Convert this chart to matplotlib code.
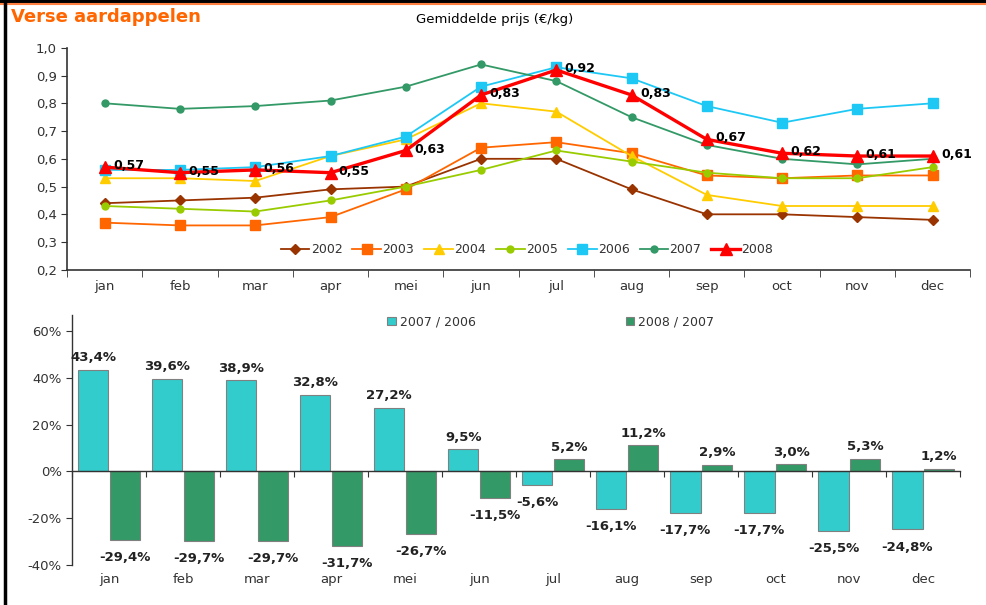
import numpy as np
import matplotlib
matplotlib.use("Agg")
import matplotlib.pyplot as plt
from matplotlib.lines import Line2D
from matplotlib.ticker import FuncFormatter

months = ['jan', 'feb', 'mar', 'apr', 'mei', 'jun', 'jul', 'aug', 'sep', 'oct', 'nov', 'dec']

# average price (EUR/kg) per year
years = ['2002', '2003', '2004', '2005', '2006', '2007', '2008']
prices_2002 = [0.44, 0.45, 0.46, 0.49, 0.50, 0.60, 0.60, 0.49, 0.40, 0.40, 0.39, 0.38]
prices_2003 = [0.37, 0.36, 0.36, 0.39, 0.49, 0.64, 0.66, 0.62, 0.54, 0.53, 0.54, 0.54]
prices_2004 = [0.53, 0.53, 0.52, 0.61, 0.67, 0.80, 0.77, 0.61, 0.47, 0.43, 0.43, 0.43]
prices_2005 = [0.43, 0.42, 0.41, 0.45, 0.50, 0.56, 0.63, 0.59, 0.55, 0.53, 0.53, 0.57]
prices_2006 = [0.56, 0.56, 0.57, 0.61, 0.68, 0.86, 0.93, 0.89, 0.79, 0.73, 0.78, 0.80]
prices_2007 = [0.80, 0.78, 0.79, 0.81, 0.86, 0.94, 0.88, 0.75, 0.65, 0.60, 0.58, 0.60]
prices_2008 = [0.57, 0.55, 0.56, 0.55, 0.63, 0.83, 0.92, 0.83, 0.67, 0.62, 0.61, 0.61]

# change in percent
change_07_06 = [43.4, 39.6, 38.9, 32.8, 27.2, 9.5, -5.6, -16.1, -17.7, -17.7, -25.5, -24.8]
change_08_07 = [-29.4, -29.7, -29.7, -31.7, -26.7, -11.5, 5.2, 11.2, 2.9, 3.0, 5.3, 1.2]

plt.rcParams['font.family'] = ['DejaVu Sans']
txt_col = '#333333'

fig = plt.figure(figsize=(9.87, 6.05), dpi=100)

# frame lines round the picture
fig.add_artist(Line2D([0, 1], [0.998, 0.998], transform=fig.transFigure, color='black', lw=2.5))
fig.add_artist(Line2D([0, 1], [0.993, 0.993], transform=fig.transFigure, color='#FF8040', lw=1.5))
fig.add_artist(Line2D([0.005, 0.005], [0, 1], transform=fig.transFigure, color='black', lw=2.5))

fig.text(0.011, 0.972, 'Verse aardappelen', color='#FF6600', fontsize=13, fontweight='bold', va='center')
fig.text(0.501, 0.967, 'Gemiddelde prijs (€/kg)', color='black', fontsize=9.5, va='center', ha='center')

x = np.arange(len(months))
comma = lambda s: s.replace('.', ',')

# ---- top: price lines
ax1 = fig.add_axes([0.068, 0.554, 0.915, 0.367])
series = [prices_2002, prices_2003, prices_2004, prices_2005, prices_2006, prices_2007, prices_2008]
colors = ['#993300', '#FF6600', '#FFCC00', '#99CC00', '#1EC8F5', '#339966', '#FF0000']
markers = ['D', 's', '^', 'o', 's', 'o', '^']
msizes = [5, 7, 7, 5, 7, 5, 8]
for yr, vals, c, m, ms in zip(years, series, colors, markers, msizes):
    lw = 2.4 if yr == '2008' else 1.3
    ax1.plot(x, vals, color=c, marker=m, markersize=ms, lw=lw, label=yr, zorder=3 if yr == '2008' else 2)

for xi, v in zip(x, prices_2008):
    ax1.annotate(comma(f'{v:.2f}'), (xi, v), xytext=(6, 1), textcoords='offset points',
                 ha='left', va='center', fontsize=9, fontweight='bold', color='black', zorder=4)

ax1.set_xlim(-0.5, 11.5)
ax1.set_ylim(0.2, 1.0)
ax1.set_yticks(np.arange(0.2, 1.01, 0.1))
ax1.yaxis.set_major_formatter(FuncFormatter(lambda v, p: comma(f'{v:.1f}')))
ax1.set_xticks(x, months)
ax1.set_xticks(np.arange(-0.5, 12, 1), minor=True)
ax1.tick_params(axis='x', which='major', length=0, pad=7, labelsize=9.5, labelcolor=txt_col)
ax1.tick_params(axis='x', which='minor', length=5, direction='out', color='#333333')
ax1.tick_params(axis='y', length=4, labelsize=9.5, labelcolor=txt_col, color='#333333')
for s in ['top', 'right']:
    ax1.spines[s].set_visible(False)
for s in ['left', 'bottom']:
    ax1.spines[s].set_color('#333333')
    ax1.spines[s].set_linewidth(1.2)

ax1.legend(loc='center', bbox_to_anchor=(0.534, 0.587), bbox_transform=fig.transFigure,
           ncol=7, frameon=False, fontsize=9, handlelength=2.3, handletextpad=0.1,
           columnspacing=0.8, labelcolor=txt_col)

# ---- bottom: percent change bars
ax2 = fig.add_axes([0.073, 0.066, 0.900, 0.413])
w = 0.41
ax2.bar(x - 0.215, change_07_06, width=w, color='#33CCCC', edgecolor='#808080', lw=0.8,
        label='2007 / 2006', zorder=2)
ax2.bar(x + 0.215, change_08_07, width=w, color='#339966', edgecolor='#808080', lw=0.8,
        label='2008 / 2007', zorder=2)

for xs, vals in [(x - 0.215, change_07_06), (x + 0.215, change_08_07)]:
    for xi, v in zip(xs, vals):
        off = 4 if v >= 0 else -8
        ax2.annotate(comma(f'{v:.1f}%'), (xi, v), xytext=(0, off), textcoords='offset points',
                     ha='center', va='bottom' if v >= 0 else 'top', fontsize=9.5,
                     fontweight='bold', color='#222222')

ax2.set_xlim(-0.5, 11.5)
ax2.set_ylim(-40, 66.7)
ax2.set_yticks(np.arange(-40, 61, 20))
ax2.yaxis.set_major_formatter(FuncFormatter(lambda v, p: f'{v:.0f}%'))
ax2.tick_params(axis='y', length=4, labelsize=9.5, labelcolor=txt_col, color='#333333')
ax2.spines['bottom'].set_position(('data', 0))
ax2.set_xticks(np.arange(-0.5, 12, 1))
ax2.set_xticklabels([])
ax2.tick_params(axis='x', length=4, direction='out', color='#333333')
for s in ['top', 'right']:
    ax2.spines[s].set_visible(False)
for s in ['left', 'bottom']:
    ax2.spines[s].set_color('#333333')
    ax2.spines[s].set_linewidth(1.0)

sec = ax2.secondary_xaxis('bottom')
sec.set_xticks(x, months)
sec.tick_params(length=0, pad=6, labelsize=9.5, labelcolor=txt_col)
sec.spines['bottom'].set_visible(False)

ax2.legend(loc='center', bbox_to_anchor=(0.558, 0.468), bbox_transform=fig.transFigure,
           ncol=2, frameon=False, fontsize=9, handlelength=0.7, handleheight=0.7,
           handletextpad=0.3, columnspacing=12, labelcolor=txt_col)

fig.savefig('out.png', dpi=100)
